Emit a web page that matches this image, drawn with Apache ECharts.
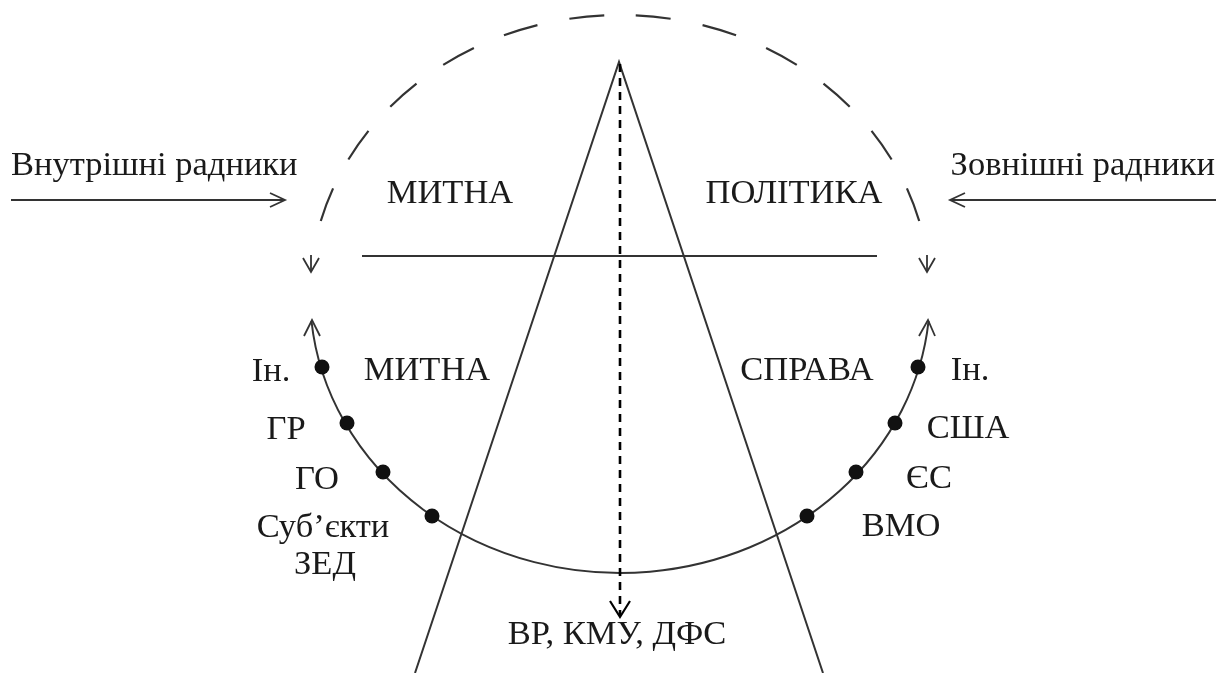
<!DOCTYPE html>
<html><head><meta charset="utf-8">
<script src="https://cdn.jsdelivr.net/npm/echarts@6/dist/echarts.min.js"></script>
<style>html,body{margin:0;padding:0;background:#fff}#c{width:1226px;height:673px}</style>
</head><body><div id="c"></div>
<script>
// ---- diagram data (in canvas units: x 0..1226, y 0..673 top-down) ----
const ellipse = [620, 294, 310, 279];          // cx, cy, rx, ry
const dashedArcEndY = 222;                     // dashed upper arc ends (both sides)
const solidArcEndY = 321;                      // solid lower arc ends (both sides)
const triangle = [[415, 673], [619, 62], [823, 673]];
const hLine = [[362, 256], [877, 256]];
const leftArrow = [[11, 200], [285, 200]];
const leftArrowHead = [[270, 193], [285, 200], [270, 207]];
const rightArrow = [[1216, 200], [950, 200]];
const rightArrowHead = [[965, 193], [950, 200], [965, 207]];
const vertDashed = [[620, 64], [620, 615]];
const vertHead = [[610, 601], [620, 617], [630, 601]];
const arcHeads = [
  [[303, 258], [311, 272], [319, 258]],
  [[919, 258], [927, 272], [935, 258]],
  [[304, 336], [312, 320], [320, 336]],
  [[919, 336], [928, 320], [935, 336]]
];
const arcStems = [
  [[311, 255], [311, 272]],
  [[927, 255], [927, 272]]
];
const dots = [[322, 367], [347, 423], [383, 472], [432, 516],
              [918, 367], [895, 423], [856, 472], [807, 516]];
const labelNames = ['Внутрішні радники', 'Зовнішні радники', 'МИТНА', 'ПОЛІТИКА',
  'МИТНА', 'СПРАВА', 'Ін.', 'ГР', 'ГО', 'Суб’єкти', 'ЗЕД',
  'Ін.', 'США', 'ЄС', 'ВМО', 'ВР, КМУ, ДФС'];
const labelPos = [[11, 166], [1215, 166], [450, 194], [794, 194],
  [427, 371], [807, 371], [271, 372], [286, 430], [317, 480], [323, 528], [325, 565],
  [970, 371], [968, 429], [929, 479], [901, 527], [617, 635]];
const labelAlign = ['left', 'right', 'center', 'center', 'center', 'center', 'center', 'center',
  'center', 'center', 'center', 'center', 'center', 'center', 'center', 'center'];

const INK = '#1a1a1a';
const LINE = '#333';
const FONT = '"Liberation Serif", "DejaVu Serif", serif';

function lineSeries(pts, opts) {
  opts = opts || {};
  return {
    type: 'line', data: pts, symbol: 'none', silent: true, animation: false,
    lineStyle: { color: opts.color || LINE, width: opts.width || 2, type: opts.dash || 'solid', cap: 'butt', join: 'miter' },
    z: opts.z || 2
  };
}

// half of the dashed upper arc, drawn from the top point outward (side = -1 left, +1 right)
function dashedHalfArc(side) {
  return {
    type: 'custom', animation: false, silent: true, z: 2,
    data: [ellipse],
    renderItem: function (params, api) {
      const cx = api.value(0), cy = api.value(1), rx = api.value(2), ry = api.value(3);
      const t = (dashedArcEndY - cy) / ry;
      const dx = rx * Math.sqrt(1 - t * t);
      const top = api.coord([cx, cy - ry]);
      const end = api.coord([cx + side * dx, dashedArcEndY]);
      const sz = api.size([rx, ry], [cx, cy]);
      const d = 'M' + top[0] + ' ' + top[1] + ' A' + sz[0] + ' ' + sz[1] + ' 0 0 ' + (side > 0 ? 1 : 0) + ' ' + end[0] + ' ' + end[1];
      return {
        type: 'path', shape: { pathData: d },
        style: { fill: 'none', stroke: LINE, lineWidth: 2.2, lineDash: [35, 32.6], lineDashOffset: 51.8, lineCap: 'butt' }
      };
    }
  };
}

function solidLowerArc() {
  return {
    type: 'custom', animation: false, silent: true, z: 2,
    data: [ellipse],
    renderItem: function (params, api) {
      const cx = api.value(0), cy = api.value(1), rx = api.value(2), ry = api.value(3);
      const t = (solidArcEndY - cy) / ry;
      const dx = rx * Math.sqrt(1 - t * t);
      const p1 = api.coord([cx - dx, solidArcEndY]);
      const p2 = api.coord([cx + dx, solidArcEndY]);
      const sz = api.size([rx, ry], [cx, cy]);
      const d = 'M' + p1[0] + ' ' + p1[1] + ' A' + sz[0] + ' ' + sz[1] + ' 0 0 0 ' + p2[0] + ' ' + p2[1];
      return {
        type: 'path', shape: { pathData: d },
        style: { fill: 'none', stroke: LINE, lineWidth: 2 }
      };
    }
  };
}

const series = [];
series.push(dashedHalfArc(-1));
series.push(dashedHalfArc(1));
series.push(solidLowerArc());
series.push(lineSeries(triangle));
series.push(lineSeries(hLine));
series.push(lineSeries(leftArrow));
series.push(lineSeries(leftArrowHead, { width: 1.8 }));
series.push(lineSeries(rightArrow));
series.push(lineSeries(rightArrowHead, { width: 1.8 }));
series.push(lineSeries(vertDashed, { color: '#000', width: 2.6, dash: [8, 6], z: 3 }));
series.push(lineSeries(vertHead, { color: '#000', width: 2.2, z: 3 }));
arcHeads.forEach(function (h) { series.push(lineSeries(h, { width: 1.8 })); });
arcStems.forEach(function (h) { series.push(lineSeries(h, { width: 1.8 })); });
series.push({
  type: 'scatter', data: dots, symbol: 'circle', symbolSize: 15, silent: true, animation: false,
  itemStyle: { color: '#111', opacity: 1 }, z: 4
});
series.push({
  type: 'custom', animation: false, silent: true, z: 5,
  data: labelPos,
  renderItem: function (params, api) {
    const p = api.coord([api.value(0), api.value(1)]);
    return {
      type: 'text', x: p[0], y: p[1],
      style: {
        text: labelNames[params.dataIndex], fill: INK,
        font: '34.5px ' + FONT,
        align: labelAlign[params.dataIndex], verticalAlign: 'middle'
      }
    };
  }
});

const chart = echarts.init(document.getElementById('c'), null, { renderer: 'canvas' });
chart.setOption({
  backgroundColor: '#fff',
  animation: false,
  grid: { left: 0, right: 0, top: 0, bottom: 0 },
  xAxis: { type: 'value', min: 0, max: 1226, show: false },
  yAxis: { type: 'value', min: 0, max: 673, inverse: true, show: false },
  series: series
});
</script></body></html>
